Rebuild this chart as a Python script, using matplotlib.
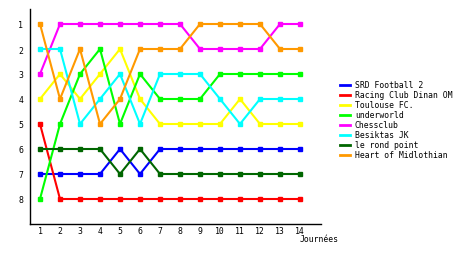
import matplotlib
matplotlib.use("Agg")
import matplotlib.pyplot as plt
from matplotlib.lines import Line2D

days = list(range(1, 15))

teams = ["SRD Football 2", "Racing Club Dinan OM", "Toulouse FC.", "underworld",
         "Chessclub", "Besiktas JK", "le rond point", "Heart of Midlothian"]
colors = ["#0000ff", "#ff0000", "#ffff00", "#00ff00",
          "#ff00ff", "#00ffff", "#006600", "#ff9900"]

srd = [7, 7, 7, 7, 6, 7, 6, 6, 6, 6, 6, 6, 6, 6]
racing = [5, 8, 8, 8, 8, 8, 8, 8, 8, 8, 8, 8, 8, 8]
toulouse = [4, 3, 4, 3, 2, 4, 5, 5, 5, 5, 4, 5, 5, 5]
underworld = [8, 5, 3, 2, 5, 3, 4, 4, 4, 3, 3, 3, 3, 3]
chessclub = [3, 1, 1, 1, 1, 1, 1, 1, 2, 2, 2, 2, 1, 1]
besiktas = [2, 2, 5, 4, 3, 5, 3, 3, 3, 4, 5, 4, 4, 4]
rond_point = [6, 6, 6, 6, 7, 6, 7, 7, 7, 7, 7, 7, 7, 7]
heart = [1, 4, 2, 5, 4, 2, 2, 2, 1, 1, 1, 1, 2, 2]

ranks = [srd, racing, toulouse, underworld, chessclub, besiktas, rond_point, heart]

W, H = 460, 255
fs = 5.9
fig = plt.figure(figsize=(W / 100, H / 100), dpi=100)
ax = fig.add_axes([30 / W, (H - 224.5) / H, 291 / W, 214.5 / H])

for vals, c in zip(ranks, colors):
    ax.plot(days, vals, color=c, lw=1.5, marker="s", ms=3, mec=c, mfc=c)

ax.set_xlim(0.5, 15.05)
ax.set_ylim(8.98, 0.4)
ax.set_xticks(days)
ax.set_yticks(range(1, 9))
ax.tick_params(length=0, labelsize=fs)
ax.tick_params(axis="y", pad=5)
ax.tick_params(axis="x", pad=1.5)
for lab in ax.get_xticklabels() + ax.get_yticklabels():
    lab.set_family("DejaVu Sans Mono")
for s in ["top", "right"]:
    ax.spines[s].set_visible(False)
for s in ["left", "bottom"]:
    ax.spines[s].set_linewidth(1)

fig.text(339 / W, 1 - 240 / H, "Journées", fontsize=fs, family="DejaVu Sans Mono",
         ha="right", va="center")

# legend drawn by hand, one row every 10 px
for i, (name, c) in enumerate(zip(teams, colors)):
    y = 1 - (86 + 10 * i) / H
    fig.add_artist(Line2D([340 / W, 350 / W], [y, y], color=c, lw=2,
                          transform=fig.transFigure))
    fig.text(355 / W, y, name, fontsize=fs, family="DejaVu Sans Mono",
             ha="left", va="center")

fig.savefig("out.png", dpi=100)
